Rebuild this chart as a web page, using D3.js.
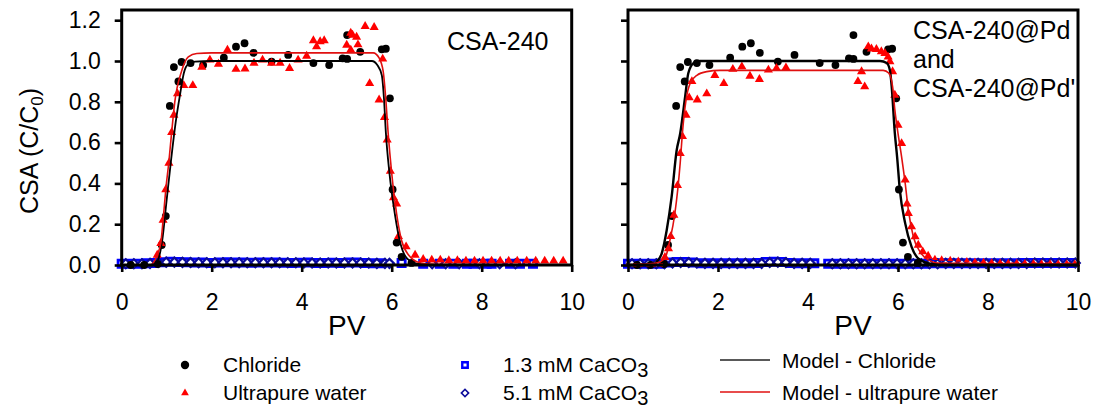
<!DOCTYPE html>
<html><head><meta charset="utf-8">
<script src="https://cdn.jsdelivr.net/npm/d3@7"></script>
<style>body{margin:0;background:#fff} text{font-family:"Liberation Sans",Arial,sans-serif;fill:#000}</style>
</head><body><svg id="c" width="1101" height="409"></svg>
<script>
// ---------- data ----------
const xTicks = [0, 2, 4, 6, 8, 10];
const yTicks = [0, 0.2, 0.4, 0.6, 0.8, 1.0, 1.2];

// Chloride (same in both panels)
const chloridePV = [0.2,0.5,0.8,0.89,0.98,1.07,1.16,1.26,1.33,1.53,1.81,2.27,2.54,2.73,2.93,3.33,3.70,4.26,4.61,4.91,5.01,5.01,5.30,5.78,5.87,5.96,6.02,6.11,6.22,6.44];
const chlorideC  = [0,0,0.005,0.098,0.24,0.78,0.97,0.90,0.995,0.99,0.98,1.016,1.07,1.087,1.04,0.997,1.03,0.99,0.98,1.013,1.01,1.127,1.045,1.057,1.06,0.817,0.37,0.11,0.04,0.01];

// Ultrapure water, CSA-240
const uwPV = [0.79,0.87,0.92,0.98,1.05,1.11,1.16,1.24,1.38,1.58,1.78,1.96,2.15,2.35,2.54,2.74,2.94,3.13,3.33,3.52,3.73,3.92,4.11,4.26,4.33,4.41,4.50,5.00,5.09,5.09,5.13,5.22,5.25,5.41,5.51,5.61,5.72,5.80,5.84,5.90,5.97,6.04,6.11,6.15,6.32,6.52,6.70,6.89,7.08,7.27,7.46,7.65,7.84,8.03,8.22,8.41,8.60,8.79,9.00,9.20,9.40,9.60,9.81];
const uwC  = [0.049,0.106,0.22,0.37,0.50,0.65,0.735,0.84,0.88,0.88,0.97,1.005,0.985,1.054,0.96,0.962,0.99,1.005,0.99,0.99,0.964,1.005,1.024,1.10,1.07,1.095,1.10,1.078,1.054,1.137,1.127,1.117,1.08,1.17,0.89,1.165,0.81,1.01,0.724,0.613,0.46,0.33,0.30,0.14,0.09,0.049,0.028,0.025,0.025,0.022,0.022,0.02,0.02,0.02,0.02,0.02,0.02,0.02,0.02,0.02,0.02,0.02,0.02];

// Ultrapure water, CSA-240@Pd'
const pdPV = [0.82,0.90,0.95,1.02,1.10,1.16,1.21,1.29,1.36,1.42,1.54,1.75,1.93,2.13,2.33,2.53,2.71,2.92,3.12,3.30,3.51,5.11,5.19,5.26,5.34,5.41,5.52,5.63,5.71,5.78,5.82,5.88,5.93,6.00,6.08,6.16,6.20,6.23,6.30,6.38,6.45,6.55,6.67];
const pdC  = [0.038,0.08,0.14,0.245,0.39,0.547,0.63,0.735,0.82,0.90,0.81,0.84,0.93,0.89,0.96,0.972,0.926,0.91,0.956,0.964,0.967,0.90,0.948,0.874,1.07,1.06,1.057,1.046,1.038,1.02,0.997,0.948,0.833,0.686,0.596,0.417,0.30,0.253,0.188,0.139,0.098,0.065,0.044];
const pdTailPV = [6.82,6.97,7.16,7.34,7.53,7.71,7.90,8.08,8.27,8.45,8.64,8.82,9.01,9.19,9.38,9.56,9.75,9.93];
const pdTailC  = [0.033,0.03,0.028,0.025,0.022,0.02,0.018,0.016,0.015,0.014,0.013,0.012,0.012,0.011,0.011,0.01,0.01,0.01];
const pdBasePV = [0.0,0.15,0.3,0.44,0.59,0.74,7.05,7.3,7.55,7.8,8.05,8.3,8.55,8.8,9.05,9.3,9.55,9.8,10.0];
const pdBaseC  = [0,0,0,0,0,0,0.004,0.004,0.004,0.004,0.004,0.004,0.004,0.004,0.004,0.004,0.004,0.004,0.004];

// 1.3 mM CaCO3 (squares) and 5.1 mM CaCO3 (diamonds), left panel
const sqLeftPV = [0,0.18,0.36,0.54,0.72,0.9,1.08,1.26,1.44,1.62,1.8,1.98,2.16,2.34,2.52,2.7,2.88,3.06,3.24,3.42,3.6,3.78,3.96,4.14,4.32,4.5,4.68,4.86,5.04,5.22,5.4,5.58,5.76,6.22,6.7,7.07,7.37,7.67,7.82,8.11,8.22,8.63,8.85,9.14];
const sqLeftC  = [0.006,0.006,0.006,0.008,0.01,0.014,0.016,0.015,0.014,0.012,0.012,0.01,0.012,0.013,0.012,0.012,0.011,0.012,0.012,0.012,0.011,0.01,0.011,0.012,0.01,0.01,0.011,0.01,0.012,0.012,0.01,0.008,0.008,0.01,0.006,0.006,0.006,0.006,0.006,0.006,0.006,0.006,0.006,0.006];
const diLeftPV = [0.09,0.27,0.45,0.63,0.81,0.99,1.17,1.35,1.53,1.71,1.89,2.07,2.25,2.43,2.61,2.79,2.97,3.15,3.33,3.51,3.69,3.87,4.05,4.23,4.41,4.59,4.77,4.95,5.13,5.31,5.49,5.67,5.85,5.95,6.9,7.2,7.5,7.95,8.4,8.75];
const diLeftC  = [0.006,0.006,0.006,0.008,0.012,0.014,0.014,0.013,0.012,0.011,0.011,0.011,0.011,0.011,0.011,0.011,0.011,0.011,0.011,0.011,0.011,0.011,0.01,0.01,0.01,0.01,0.01,0.01,0.01,0.01,0.01,0.008,0.008,0.008,0.006,0.006,0.006,0.006,0.006,0.006];

// right panel
const sqRightPV = [0,0.18,0.36,0.54,0.72,0.9,1.08,1.26,1.44,1.62,1.8,1.98,2.16,2.34,2.52,2.7,2.88,3.06,3.24,3.42,3.6,3.78,3.96,4.14,4.45,4.63,4.81,4.99,5.17,5.35,5.53,5.71,5.89,6.07,6.25,6.43,6.61,6.79,6.97,7.15,7.33,7.51,7.69,7.87,8.05,8.23,8.41,8.59,8.77,8.95,9.13,9.31,9.49,9.67,9.85];
const sqRightC  = [0.006,0.006,0.006,0.006,0.006,0.012,0.015,0.015,0.012,0.008,0.008,0.008,0.008,0.008,0.008,0.008,0.01,0.015,0.016,0.015,0.01,0.008,0.008,0.008,0.006,0.006,0.006,0.006,0.006,0.006,0.006,0.006,0.006,0.006,0.006,0.006,0.006,0.008,0.008,0.008,0.008,0.008,0.008,0.008,0.008,0.008,0.008,0.008,0.01,0.01,0.01,0.01,0.01,0.01,0.01];
const diRightPV = [0.09,0.27,0.45,0.63,0.81,0.99,1.17,1.35,1.53,1.71,1.89,2.07,2.25,2.43,2.61,2.79,2.97,3.15,3.33,3.51,3.69,3.87,4.05,4.54,4.72,4.9,5.08,5.26,5.44,5.62,5.8,5.98,6.16,6.34,6.52,6.7,6.88,7.06,7.24,7.42,7.6,7.78,7.96,8.14,8.32,8.5,8.68,8.86,9.04,9.22,9.4,9.58,9.76,9.94];
const diRightC  = [0.006,0.006,0.006,0.006,0.006,0.01,0.012,0.012,0.01,0.008,0.008,0.008,0.008,0.008,0.008,0.008,0.008,0.012,0.014,0.012,0.008,0.008,0.008,0.006,0.006,0.006,0.006,0.006,0.006,0.006,0.006,0.006,0.006,0.006,0.006,0.006,0.006,0.008,0.008,0.008,0.008,0.008,0.008,0.008,0.008,0.008,0.008,0.008,0.01,0.01,0.01,0.01,0.01,0.01];

// Model curves
const mLeftClX = [0,0.72,0.8,0.9,1.0,1.1,1.2,1.3,1.38,1.48,1.63,2.0,5.56,5.68,5.78,5.83,5.87,5.95,6.07,6.2,6.35,6.6,7.0,10];
const mLeftClY = [0,0,0.02,0.12,0.32,0.52,0.7,0.84,0.94,0.985,0.997,1.0,1.0,0.98,0.93,0.81,0.65,0.45,0.25,0.1,0.03,0.005,0,0];
const mLeftUwX = [0,0.63,0.79,0.87,0.92,0.98,1.05,1.11,1.18,1.33,1.48,1.67,2.0,5.59,5.72,5.81,5.87,5.92,6.0,6.11,6.22,6.37,6.63,7.0,10];
const mLeftUwY = [0,0,0.05,0.11,0.22,0.37,0.51,0.65,0.8,0.95,1.02,1.037,1.04,1.04,1.015,0.95,0.81,0.65,0.45,0.25,0.12,0.05,0.011,0.003,0];
const mRightClX = [0,0.55,0.64,0.75,0.86,0.97,1.08,1.16,1.27,1.34,1.46,1.6,2.0,5.6,5.75,5.82,5.86,5.93,5.98,6.04,6.16,6.3,6.49,6.8,10];
const mRightClY = [0,0,0.016,0.057,0.17,0.335,0.56,0.645,0.825,0.94,0.99,1.0,1.0,1.0,0.99,0.955,0.874,0.645,0.53,0.37,0.204,0.09,0.025,0.005,0];
const mRightUwX = [0,0.6,0.82,0.93,1.04,1.16,1.21,1.29,1.38,1.53,1.75,2.04,5.67,5.8,5.88,5.93,6.0,6.08,6.16,6.23,6.34,6.49,6.67,6.93,10];
const mRightUwY = [0,0.008,0.033,0.12,0.25,0.5,0.65,0.81,0.89,0.93,0.948,0.954,0.954,0.94,0.874,0.76,0.645,0.53,0.4,0.27,0.14,0.065,0.025,0.008,0.005];

// ---------- drawing ----------
const svg = d3.select("#c");
const RED = "#ff0000", REDLINE = "#e01010", BLUE = "#0000ff", NAVY = "#0a0a9a";
const y = d3.scaleLinear().domain([0, 1.25]).range([265, 10]);

function pairs(a, b) { return d3.zip(a, b); }

function drawPanel(p) {
  const x = d3.scaleLinear().domain([0, 10]).range([p.x0, p.x1]);
  const g = svg.append("g");
  const tr = d => `translate(${x(d[0])},${y(d[1])})`;

  // blue squares
  g.append("g").selectAll("path").data(pairs(p.sqPV, p.sqC)).join("path")
    .attr("d", d3.symbol(d3.symbolSquare, 52)).attr("transform", tr)
    .attr("fill", "#fff").attr("stroke", BLUE).attr("stroke-width", 2.8);
  // diamonds
  g.append("g").selectAll("path").data(pairs(p.diPV, p.diC)).join("path")
    .attr("d", d3.symbol(d3.symbolSquare, 40)).attr("transform", d => tr(d) + " rotate(45)")
    .attr("fill", "#fff").attr("stroke", NAVY).attr("stroke-width", 2.2);
  // chloride
  g.append("g").selectAll("circle").data(pairs(chloridePV, chlorideC)).join("circle")
    .attr("cx", d => x(d[0])).attr("cy", d => y(d[1])).attr("r", 3.9).attr("fill", "#000");
  // ultrapure water
  g.append("g").selectAll("path").data(pairs(p.uwPV, p.uwC)).join("path")
    .attr("d", d3.symbol(d3.symbolTriangle, 36)).attr("transform", tr).attr("fill", RED);
  if (p.tailPV) {
    g.append("g").selectAll("path").data(pairs(p.tailPV, p.tailC)).join("path")
      .attr("d", d3.symbol(d3.symbolTriangle, 16)).attr("transform", tr).attr("fill", RED);
    g.append("g").selectAll("path").data(pairs(p.basePV, p.baseC)).join("path")
      .attr("d", d3.symbol(d3.symbolSquare, 12)).attr("transform", tr).attr("fill", RED);
  }
  // model lines
  const line = d3.line().x(d => x(d[0])).y(d => y(d[1])).curve(d3.curveMonotoneX);
  g.append("path").datum(pairs(p.mClX, p.mClY)).attr("d", line)
    .attr("fill", "none").attr("stroke", "#000").attr("stroke-width", p.clW);
  g.append("path").datum(pairs(p.mUwX, p.mUwY)).attr("d", line)
    .attr("fill", "none").attr("stroke", REDLINE).attr("stroke-width", 1.6);

  // axes
  const ya = g.append("g").attr("transform", `translate(${p.x0},0)`)
    .call(d3.axisLeft(y).tickValues(yTicks).tickSize(7).tickPadding(14)
      .tickFormat(p.yLabels ? d3.format(".1f") : () => ""));
  const xa = g.append("g").attr("transform", "translate(0,265)")
    .call(d3.axisBottom(x).tickValues(xTicks).tickSize(7).tickPadding(22).tickFormat(d3.format("d")));
  [ya, xa].forEach(a => {
    a.select(".domain").remove();
    a.selectAll("line").attr("stroke", "#000").attr("stroke-width", 2.6);
    a.selectAll("text").attr("font-size", 23).attr("fill", "#000")
      .attr("font-family", '"Liberation Sans",Arial,sans-serif');
  });
  g.append("rect").attr("x", p.x0).attr("y", 10).attr("width", p.x1 - p.x0).attr("height", 255)
    .attr("fill", "none").attr("stroke", "#000").attr("stroke-width", 3);

  g.append("text").attr("x", (p.x0 + p.x1) / 2).attr("y", 335).attr("text-anchor", "middle")
    .attr("font-size", 28).text("PV");

  const t = g.append("text").attr("font-size", 25);
  p.title.forEach((s, i) => t.append("tspan").attr("x", p.tx).attr("y", p.ty + i * 29).text(s));
}

drawPanel({
  x0: 121.7, x1: 571.7, yLabels: true, clW: 1.8,
  sqPV: sqLeftPV, sqC: sqLeftC, diPV: diLeftPV, diC: diLeftC,
  uwPV: uwPV, uwC: uwC,
  mClX: mLeftClX, mClY: mLeftClY, mUwX: mLeftUwX, mUwY: mLeftUwY,
  title: ["CSA-240"], tx: 447, ty: 50
});
drawPanel({
  x0: 628, x1: 1078, yLabels: false, clW: 2.4,
  sqPV: sqRightPV, sqC: sqRightC, diPV: diRightPV, diC: diRightC,
  uwPV: pdPV, uwC: pdC, tailPV: pdTailPV, tailC: pdTailC, basePV: pdBasePV, baseC: pdBaseC,
  mClX: mRightClX, mClY: mRightClY, mUwX: mRightUwX, mUwY: mRightUwY,
  title: ["CSA-240@Pd", "and", "CSA-240@Pd'"], tx: 913, ty: 39
});

// y label
const yl = svg.append("text").attr("transform", "translate(38,151) rotate(-90)")
  .attr("text-anchor", "middle").attr("font-size", 25);
yl.append("tspan").text("CSA (C/C");
yl.append("tspan").attr("font-size", 17).attr("dy", 5).text("0");
yl.append("tspan").attr("dy", -5).text(")");

// legend
const lg = svg.append("g").attr("font-size", 21);
lg.append("circle").attr("cx", 185).attr("cy", 365).attr("r", 4.2).attr("fill", "#000");
lg.append("text").attr("x", 223).attr("y", 372).text("Chloride");
lg.append("path").attr("d", d3.symbol(d3.symbolTriangle, 26)).attr("transform", "translate(185,393)").attr("fill", RED);
lg.append("text").attr("x", 223).attr("y", 400).text("Ultrapure water");
lg.append("path").attr("d", d3.symbol(d3.symbolSquare, 30)).attr("transform", "translate(465,365)")
  .attr("fill", "#fff").attr("stroke", BLUE).attr("stroke-width", 2.4);
const t1 = lg.append("text").attr("x", 503).attr("y", 372);
t1.append("tspan").text("1.3 mM CaCO");
t1.append("tspan").attr("dy", 5).attr("font-size", 20).text("3");
lg.append("path").attr("d", d3.symbol(d3.symbolSquare, 26)).attr("transform", "translate(465,393) rotate(45)")
  .attr("fill", "#fff").attr("stroke", NAVY).attr("stroke-width", 1.6);
const t2 = lg.append("text").attr("x", 503).attr("y", 400);
t2.append("tspan").text("5.1 mM CaCO");
t2.append("tspan").attr("dy", 5).attr("font-size", 20).text("3");
lg.append("line").attr("x1", 720).attr("x2", 770).attr("y1", 360).attr("y2", 360).attr("stroke", "#222").attr("stroke-width", 1.6);
lg.append("text").attr("x", 782).attr("y", 368).text("Model - Chloride");
lg.append("line").attr("x1", 720).attr("x2", 770).attr("y1", 392).attr("y2", 392).attr("stroke", REDLINE).attr("stroke-width", 1.6);
lg.append("text").attr("x", 782).attr("y", 400).text("Model - ultrapure water");
</script></body></html>
